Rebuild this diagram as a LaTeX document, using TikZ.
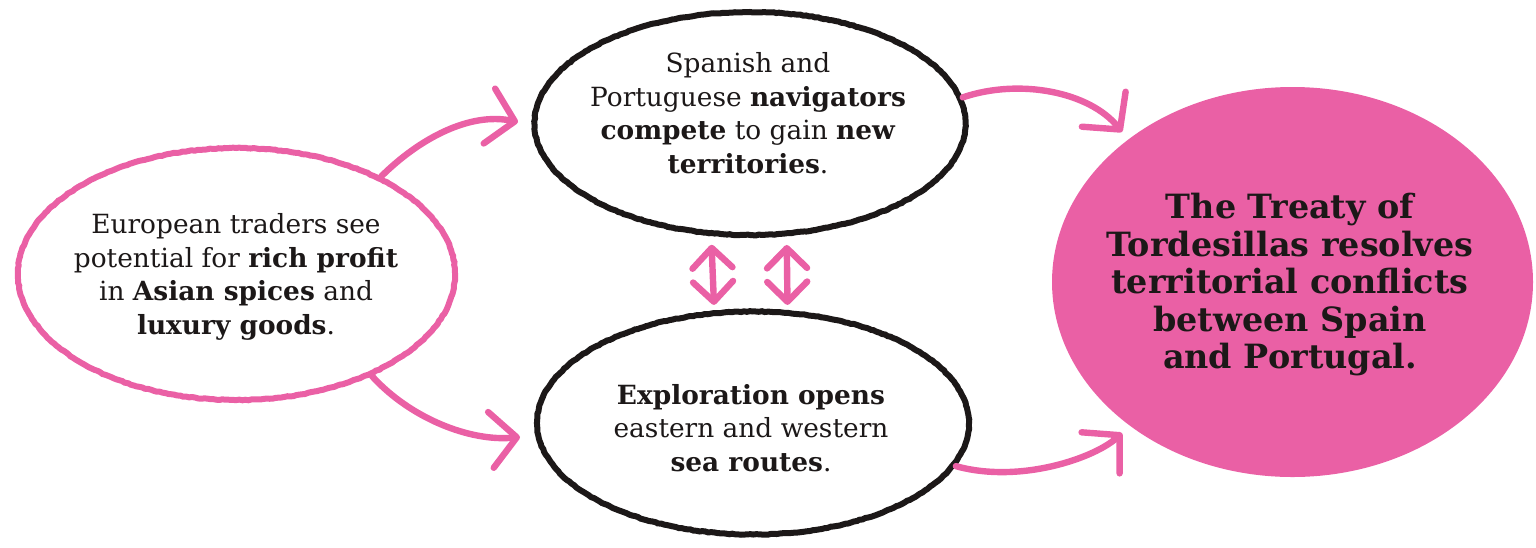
\documentclass[tikz,border=0pt]{standalone}
\usepackage{fontspec}
\setmainfont{DejaVu Serif}
\usetikzlibrary{arrows.meta,shapes.geometric,decorations.pathmorphing,calc}
\definecolor{hotpink}{RGB}{234,96,165}
\definecolor{inkblack}{RGB}{28,24,24}
\begin{document}
\begin{tikzpicture}[x=0.5pt,y=-0.5pt,
  rough/.style={decorate,decoration={random steps,segment length=1.5pt,amplitude=0.2pt}},
  bubble/.style={ellipse,draw=inkblack,line width=3pt,inner sep=0pt,rough},
  pinkbubble/.style={bubble,draw=hotpink},
  goal/.style={ellipse,fill=hotpink,inner sep=0pt},
  txt/.style={align=center,inner sep=0pt,text=inkblack,font=\fontsize{13.2}{16.75}\selectfont},
  bigtxt/.style={align=center,inner sep=0pt,text=inkblack,font=\bfseries\fontsize{16.7}{18.75}\selectfont},
  flow/.style={draw=hotpink,line width=3.2pt,line cap=round,
    -{Straight Barb[length=13pt,width=28pt,round]}},
  both/.style={draw=hotpink,line width=3.2pt,line cap=round,
    {Straight Barb[length=10pt,width=20pt,round]}-{Straight Barb[length=10pt,width=20pt,round]}}]
\useasboundingbox (0,0) rectangle (1536,547);

% the four bubbles
\node[pinkbubble,minimum width=218.5pt,minimum height=126pt] (L) at (236.5,274) {};
\node[bubble,minimum width=215.5pt,minimum height=111.5pt] (T) at (750,123.5) {};
\node[bubble,minimum width=216pt,minimum height=111.5pt] (B) at (753,423) {};
\node[goal,minimum width=240.5pt,minimum height=195pt] (R) at (1292.5,282) {};

% texts
\node[txt] (Ltext) at (236,277) {European traders see\\potential for \textbf{rich profit}\\in \textbf{Asian spices} and\\\textbf{luxury goods}.};
\node[txt] (Ttext) at (748,113) {Spanish and\\Portuguese \textbf{navigators}\\\textbf{compete} to gain \textbf{new}\\\textbf{territories}.};
\node[txt] (Btext) at (751,428) {\textbf{Exploration opens}\\eastern and western\\\textbf{sea routes}.};
\node[bigtxt] (Rtext) at (1290,285) {The Treaty of\\Tordesillas resolves\\territorial conflicts\\between Spain\\and Portugal.};

% arrow tips
\coordinate (tipLT) at (518,122);
\coordinate (tipLB) at (520,437);
\coordinate (tipTR) at (1122,132);
\coordinate (tipBR) at (1122,433);

% connectors
\draw[flow] (L.34) .. controls (420,138) and (470,112) .. (tipLT);
\draw[flow] (L.-37) .. controls (410,418) and (470,442) .. (tipLB);
\draw[flow] (T.7.5) .. controls (1020,78) and (1090,92) .. (tipTR);
\draw[flow] (B.-12.5) .. controls (1020,484) and (1095,458) .. (tipBR);
\draw[both,shorten <=4.3pt,shorten >=2.7pt] (T.251.85) -- (B.109.6);
\draw[both,shorten <=4.3pt,shorten >=2.5pt] (T.288.15) -- (B.73.3);
\end{tikzpicture}
\end{document}
